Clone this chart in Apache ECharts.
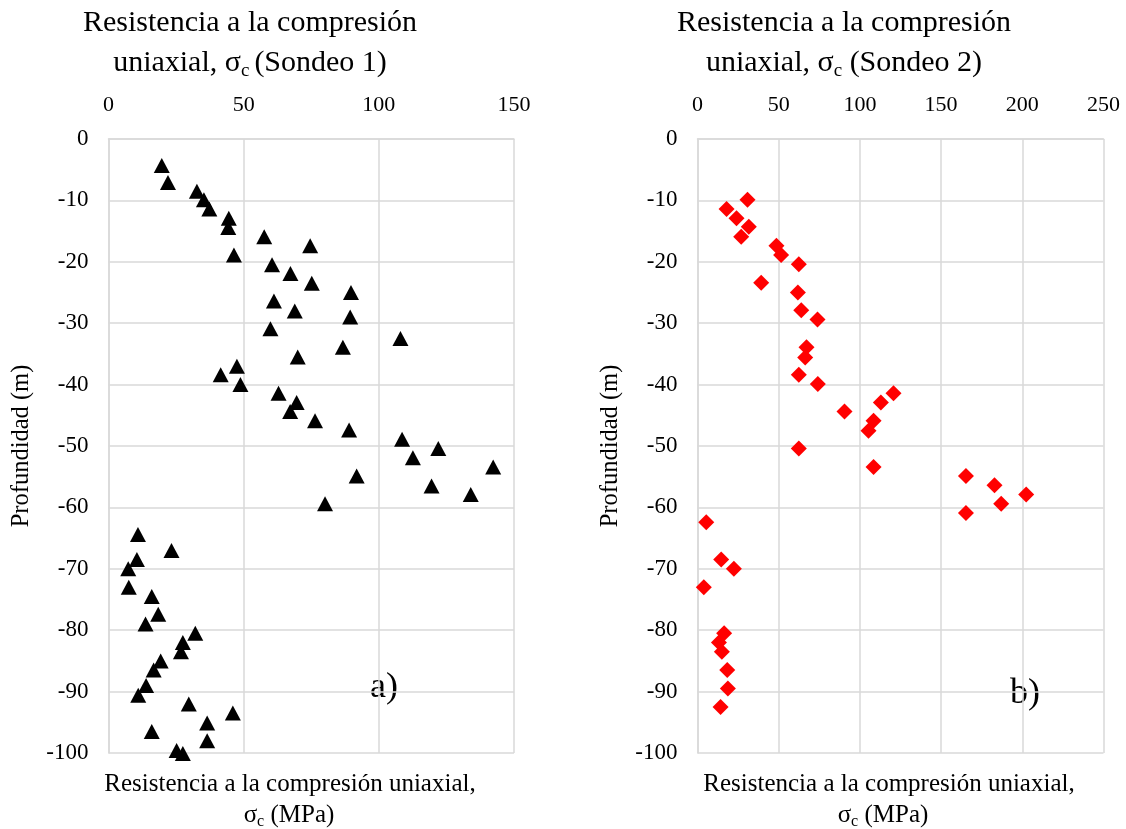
<!DOCTYPE html>
<html>
<head>
<meta charset="utf-8">
<script src="https://cdn.jsdelivr.net/npm/echarts@6/dist/echarts.min.js"></script>
<style>
  html, body { margin: 0; padding: 0; background: #fff; }
  #chart { width: 1126px; height: 829px; }
</style>
</head>
<body>
<div id="chart"></div>
<script>
// Sondeo 1: [sigma_c (MPa), depth (m)]
const sondeo1Strength = [19.7, 22, 32.7, 35.3, 37.3, 44.5, 44.3, 57.6, 74.6, 46.4, 60.5, 67.3, 75.2, 89.7, 61.2, 68.9, 89.4, 59.9, 108, 86.7, 70.0, 47.5, 41.5, 48.8, 62.9, 69.6, 67.2, 76.4, 89, 108.6, 122, 112.6, 142.3, 91.8, 119.5, 134, 80.1, 10.9, 23.3, 10.5, 7.3, 7.5, 16, 18.4, 13.7, 32.1, 27.5, 26.8, 19.3, 16.7, 13.9, 11, 29.7, 46, 36.5, 16, 36.5, 25.2, 27.5];
const sondeo1Depth = [-4.3, -7.1, -8.5, -9.9, -11.4, -12.9, -14.4, -15.9, -17.4, -18.9, -20.5, -21.9, -23.5, -25, -26.4, -28, -29, -30.9, -32.5, -33.9, -35.5, -37, -38.4, -40, -41.4, -42.9, -44.4, -45.9, -47.4, -48.9, -50.4, -51.9, -53.4, -54.9, -56.5, -57.9, -59.4, -64.4, -67, -68.5, -70, -73, -74.5, -77.4, -79, -80.5, -82, -83.5, -85, -86.5, -89, -90.6, -92, -93.5, -95.1, -96.5, -98, -99.6, -100.1];

// Sondeo 2
const sondeo2Strength = [30.8, 17.9, 24, 31.6, 26.9, 48.6, 51.5, 62.4, 39.2, 61.8, 63.9, 73.9, 67.1, 66.3, 62.4, 74.1, 120.7, 112.9, 90.5, 108.4, 105.3, 62.4, 108.4, 165.3, 182.9, 202.4, 187, 165.3, 5.4, 14.6, 22.4, 3.9, 16.4, 13.2, 15, 18.3, 18.7, 14.2];
const sondeo2Depth = [-9.9, -11.4, -12.9, -14.3, -15.9, -17.4, -18.9, -20.4, -23.4, -25, -27.9, -29.4, -33.9, -35.6, -38.4, -39.9, -41.4, -42.9, -44.4, -45.9, -47.5, -50.4, -53.4, -54.9, -56.4, -57.9, -59.4, -60.9, -62.4, -68.5, -70, -73, -80.5, -82, -83.5, -86.5, -89.5, -92.5];

const xTicks1 = { min: 0, max: 150, interval: 50 };
const xTicks2 = { min: 0, max: 250, interval: 50 };
const yTicks = { min: -100, max: 0, interval: 10 };

const titleLine1 = 'Resistencia a la compresión';
const titleLine2a = 'uniaxial, σ';
const titleLine2b1 = '(Sondeo 1)';
const titleLine2b2 = ' (Sondeo 2)';
const xNameLine1 = 'Resistencia a la compresión uniaxial,';
const yName = 'Profundidad (m)';
const panelLabels = ['a)', 'b)'];

const FONT = '"Liberation Serif", "Times New Roman", serif';
const GRID_COLOR = '#d9d9d9';

const s1 = sondeo1Strength.map((v, i) => [v, sondeo1Depth[i]]);
const s2 = sondeo2Strength.map((v, i) => [v, sondeo2Depth[i]]);

function xAxisFor(idx, ticks) {
  return {
    gridIndex: idx, type: 'value', position: 'top',
    min: ticks.min, max: ticks.max, interval: ticks.interval,
    axisLine: { show: true, lineStyle: { color: GRID_COLOR, width: 1.5 } },
    axisTick: { show: false },
    axisLabel: { color: '#000', fontFamily: FONT, fontSize: 22, margin: 23 },
    splitLine: { show: true, lineStyle: { color: GRID_COLOR, width: 1.5 } }
  };
}
function yAxisFor(idx) {
  return {
    gridIndex: idx, type: 'value',
    min: yTicks.min, max: yTicks.max, interval: yTicks.interval,
    name: yName, nameLocation: 'middle', nameRotate: 90, nameGap: 74,
    nameTextStyle: { color: '#000', fontFamily: FONT, fontSize: 24.5 },
    axisLine: { show: true, lineStyle: { color: GRID_COLOR, width: 1.5 } },
    axisTick: { show: false },
    axisLabel: { color: '#000', fontFamily: FONT, fontSize: 23, margin: 20 },
    splitLine: { show: true, lineStyle: { color: GRID_COLOR, width: 1.5 } }
  };
}

function titleText(x, suffix, subPadRight) {
  return [
    { type: 'text', style: { x: x, y: 23, text: titleLine1, fill: '#000', font: '30px ' + FONT, textAlign: 'center', textVerticalAlign: 'middle' } },
    { type: 'text', style: {
        x: x, y: 63, textAlign: 'center', textVerticalAlign: 'middle',
        text: '{n|' + titleLine2a + '}{s|c}{n|' + suffix + '}',
        rich: {
          n: { fontFamily: FONT, fontSize: 30, lineHeight: 36, fill: '#000', color: '#000' },
          s: { fontFamily: FONT, fontSize: 19, lineHeight: 8, verticalAlign: 'bottom', padding: [0, subPadRight, 0, 0], fill: '#000', color: '#000' }
        }
      } }
  ];
}
function bottomText(x1, x2) {
  return [
    { type: 'text', style: { x: x1, y: 784, text: xNameLine1, fill: '#000', font: '25px ' + FONT, textAlign: 'center', textVerticalAlign: 'middle' } },
    { type: 'text', style: {
        x: x2, y: 815, textAlign: 'center', textVerticalAlign: 'middle',
        text: '{n|σ}{s|c}{n| (MPa)}',
        rich: {
          n: { fontFamily: FONT, fontSize: 25, lineHeight: 30, fill: '#000', color: '#000' },
          s: { fontFamily: FONT, fontSize: 16, lineHeight: 7, verticalAlign: 'bottom', fill: '#000', color: '#000' }
        }
      } }
  ];
}

const chart = echarts.init(document.getElementById('chart'), null, { renderer: 'canvas' });
chart.setOption({
  backgroundColor: '#fff',
  animation: false,
  grid: [
    { left: 108.5, right: 612, top: 139, bottom: 76 },
    { left: 697.5, right: 22.5, top: 139, bottom: 76 }
  ],
  xAxis: [xAxisFor(0, xTicks1), xAxisFor(1, xTicks2)],
  yAxis: [yAxisFor(0), yAxisFor(1)],
  series: [
    { type: 'scatter', xAxisIndex: 0, yAxisIndex: 0, data: s1, clip: false, symbol: 'triangle', symbolSize: [16, 15], itemStyle: { color: '#000', opacity: 1 } },
    { type: 'scatter', xAxisIndex: 1, yAxisIndex: 1, data: s2, clip: false, symbol: 'diamond', symbolSize: [16, 16], itemStyle: { color: '#ff0000', opacity: 1 } }
  ],
  graphic: [].concat(
    titleText(250, titleLine2b1, 5),
    titleText(844, titleLine2b2, 0),
    bottomText(290, 289),
    bottomText(889, 883),
    [
      { type: 'text', style: { x: 384, y: 688, text: panelLabels[0], fill: '#000', font: '36px ' + FONT, textAlign: 'center', textVerticalAlign: 'middle' } },
      { type: 'text', style: { x: 1025, y: 694, text: panelLabels[1], fill: '#000', font: '36px ' + FONT, textAlign: 'center', textVerticalAlign: 'middle' } }
    ]
  )
});
</script>
</body>
</html>
